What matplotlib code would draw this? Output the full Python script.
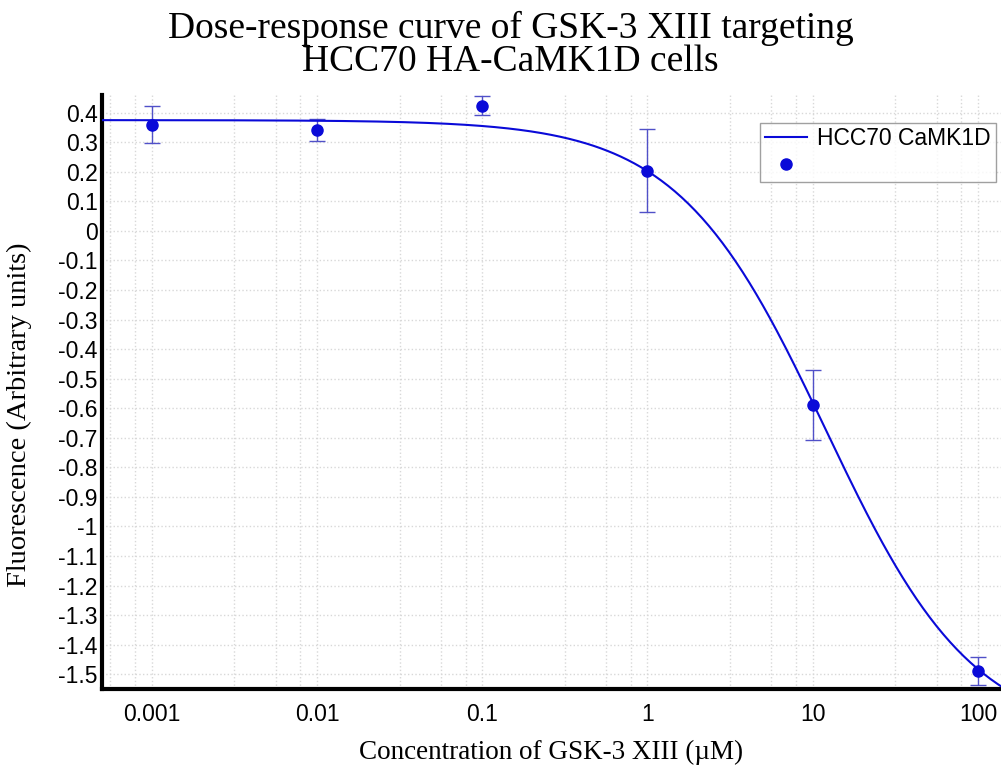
import numpy as np
import matplotlib.pyplot as plt
from matplotlib.ticker import FixedLocator, FuncFormatter

conc = [0.001, 0.01, 0.1, 1, 10, 100]
resp = [0.360, 0.342, 0.424, 0.204, -0.590, -1.490]
err = [0.063, 0.037, 0.031, 0.140, 0.118, 0.047]

# four-parameter logistic fit shown as the curve
fit_top = 0.375
fit_bottom = -1.72
fit_ic50 = 12.0
fit_hill = 0.97

y_ticks = np.round(np.arange(-1.5, 0.41, 0.1), 1)
x_ticks = [0.001, 0.01, 0.1, 1, 10, 100]
x_tick_labels = ["0.001", "0.01", "0.1", "1", "10", "100"]

blue = "#0a0ad8"

fig = plt.figure(figsize=(10.01, 7.76), dpi=100)
ax = fig.add_axes([0.1019, 0.1121, 0.8981, 0.7655])

xs = np.logspace(np.log10(0.0005), np.log10(140), 400)
ys = fit_bottom + (fit_top - fit_bottom) / (1 + (xs / fit_ic50) ** fit_hill)
ax.plot(xs, ys, color=blue, lw=1.5, label="HCC70 CaMK1D", zorder=3)
ax.errorbar(conc, resp, yerr=err, fmt="none", ecolor="#5050c8", elinewidth=1,
            capsize=5.5, capthick=1, zorder=2)
ax.plot(conc, resp, "o", color=blue, ms=8, label=" ", zorder=4)

ax.set_xscale("log")
ax.set_xlim(0.0005, 138)
ax.set_ylim(-1.55, 0.46)

ax.xaxis.set_major_locator(FixedLocator(x_ticks))
ax.xaxis.set_major_formatter(FuncFormatter(lambda v, p: x_tick_labels[x_ticks.index(v)] if v in x_ticks else ""))
minor = [d * m for d in x_ticks + [0.0001] for m in (10 ** 0.5, 10 ** 0.75, 10 ** 0.9)]
ax.xaxis.set_minor_locator(FixedLocator(minor))
ax.xaxis.set_minor_formatter(FuncFormatter(lambda v, p: ""))
ax.yaxis.set_major_locator(FixedLocator(y_ticks))
ax.yaxis.set_major_formatter(FuncFormatter(lambda v, p: "%g" % round(v, 1) if abs(v) > 1e-9 else "0"))

ax.grid(True, which="both", color="#d8d8d8", ls=":", lw=1)
ax.tick_params(which="both", length=0, labelsize=16.5)
ax.tick_params(axis="y", pad=3)
ax.tick_params(axis="x", pad=10)
for lab in ax.get_xticklabels() + ax.get_yticklabels():
    lab.set_fontfamily("Liberation Sans")

for s in ["top", "right"]:
    ax.spines[s].set_visible(False)
for s in ["left", "bottom"]:
    ax.spines[s].set_linewidth(3)

leg = ax.legend(loc="upper left", bbox_to_anchor=(0.732, 0.953), frameon=True, fancybox=False,
                prop={"family": "Liberation Sans", "size": 16.5}, handlelength=1.85,
                handletextpad=0.45, borderpad=0.2, labelspacing=0.15, borderaxespad=0)
leg.get_frame().set_edgecolor("#888888")
leg.get_frame().set_linewidth(1)

fig.text(0.51, 0.942, "Dose-response curve of GSK-3 XIII targeting\nHCC70 HA-CaMK1D cells",
         ha="center", va="center", fontfamily="Liberation Serif", fontsize=27, linespacing=0.97)
fig.text(0.551, 0.031, "Concentration of GSK-3 XIII (\u00b5M)", ha="center", va="center",
         fontfamily="Liberation Serif", fontsize=19.5)
fig.text(0.019, 0.466, "Fluorescence (Arbitrary units)", ha="center", va="center", rotation=90,
         fontfamily="Liberation Serif", fontsize=20.5)

fig.savefig("out.png", dpi=100)
